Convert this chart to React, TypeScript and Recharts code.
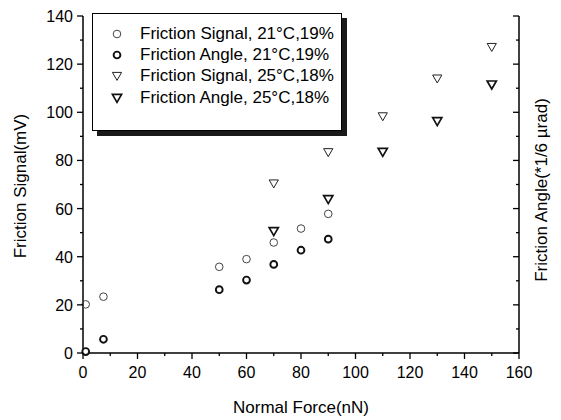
import React from "react";
import {
  ScatterChart,
  Scatter,
  XAxis,
  YAxis,
  Legend,
} from "recharts";

const FONT = "'Liberation Sans', Arial, sans-serif";

// 21°C, 19% run
const force21 = [1, 7.5, 50, 60, 70, 80, 90];
const signal21 = [20.2, 23.4, 35.8, 39.0, 45.9, 51.7, 57.8];
const angle21 = [0.6, 5.7, 26.3, 30.3, 36.8, 42.7, 47.3];

// 25°C, 18% run
const force25 = [70, 90, 110, 130, 150];
const signal25 = [70.4, 83.4, 98.3, 114.0, 127.1];
const angle25 = [50.6, 63.9, 83.5, 96.3, 111.5];

const xTicks = [0, 10, 20, 30, 40, 50, 60, 70, 80, 90, 100, 110, 120, 130, 140, 150, 160];
const yTicks = [0, 10, 20, 30, 40, 50, 60, 70, 80, 90, 100, 110, 120, 130, 140];

const legendLabels = [
  "Friction Signal, 21°C,19%",
  "Friction Angle, 21°C,19%",
  "Friction Signal, 25°C,18%",
  "Friction Angle, 25°C,18%",
];

const toPoints = (xs: number[], ys: number[]) => xs.map((x, i) => ({ x, y: ys[i] }));

const OpenCircle = ({ cx, cy }: any) => (
  <circle cx={cx} cy={cy} r={3.8} fill="none" stroke="#444" strokeWidth={1} />
);
const BoldCircle = ({ cx, cy }: any) => (
  <circle cx={cx} cy={cy} r={3.4} fill="#fff" stroke="#111" strokeWidth={1.9} />
);
const triPath = (cx: number, cy: number) =>
  `M${cx - 4.6} ${cy - 3.6}L${cx + 4.6} ${cy - 3.6}L${cx} ${cy + 4.4}Z`;
const OpenTri = ({ cx, cy }: any) => (
  <path d={triPath(cx, cy)} fill="#fff" stroke="#222" strokeWidth={1} />
);
const BoldTri = ({ cx, cy }: any) => (
  <path d={triPath(cx, cy)} fill="#fff" stroke="#111" strokeWidth={1.7} />
);

const symbols = [OpenCircle, BoldCircle, OpenTri, BoldTri];

const LeftTick = ({ x, y, payload }: any) => {
  const major = payload.value % 20 === 0;
  return (
    <g>
      <line x1={x - (major ? 6 : 3)} y1={y} x2={x} y2={y} stroke="#000" strokeWidth={1.3} />
      {major && (
        <text x={x - 10} y={y + 6} textAnchor="end" fontSize={16} fontFamily={FONT} fill="#000">
          {payload.value}
        </text>
      )}
    </g>
  );
};

const RightTick = ({ x, y, payload }: any) => {
  const major = payload.value % 20 === 0;
  return (
    <line x1={x - (major ? 6 : 3)} y1={y} x2={x} y2={y} stroke="#000" strokeWidth={1.3} />
  );
};

const BottomTick = ({ x, y, payload }: any) => {
  const major = payload.value % 20 === 0;
  return (
    <g>
      <line x1={x} y1={y} x2={x} y2={y + (major ? 6 : 3)} stroke="#000" strokeWidth={1.3} />
      {major && (
        <text x={x} y={y + 25} textAnchor="middle" fontSize={16} fontFamily={FONT} fill="#000">
          {payload.value}
        </text>
      )}
    </g>
  );
};

const LegendBox = () => (
  <div
    style={{
      width: 250,
      height: 118,
      border: "1px solid #000",
      boxShadow: "5px 5px 0 #1a1a1a",
      background: "#fff",
      fontFamily: FONT,
      fontSize: 17,
      color: "#000",
      boxSizing: "border-box",
      paddingTop: 9,
    }}
  >
    {legendLabels.map((label, i) => {
      const Sym = symbols[i];
      return (
        <div key={label} style={{ display: "flex", alignItems: "center", height: 21.3 }}>
          <svg width={47} height={20} style={{ display: "block" }}>
            <Sym cx={24} cy={10} />
          </svg>
          <span style={{ whiteSpace: "nowrap" }}>{label}</span>
        </div>
      );
    })}
  </div>
);

const axisStyle = { stroke: "#000", strokeWidth: 1.5 };

const App = () => {
  return (
    <div style={{ position: "absolute", left: 0, top: 0, background: "#fff" }}>
      <ScatterChart
        width={561}
        height={420}
        margin={{ top: 16, right: 0, bottom: 0, left: 0 }}
      >
        <XAxis
          type="number"
          dataKey="x"
          domain={[0, 160]}
          ticks={xTicks}
          interval={0}
          height={67}
          tickSize={0}
          tickMargin={0}
          tickLine={false}
          stroke="#000"
          axisLine={axisStyle}
          tick={<BottomTick />}
          label={{
            content: () => (
              <text x={301} y={413} textAnchor="middle" fontSize={17} fontFamily={FONT} fill="#000">
                Normal Force(nN)
              </text>
            ),
          }}
        />
        <YAxis
          yAxisId="left"
          type="number"
          dataKey="y"
          domain={[0, 140]}
          ticks={yTicks}
          interval={0}
          width={83}
          tickSize={0}
          tickMargin={0}
          tickLine={false}
          stroke="#000"
          axisLine={axisStyle}
          tick={<LeftTick />}
          label={{
            content: () => (
              <text
                x={26}
                y={186}
                transform="rotate(-90 26 186)"
                textAnchor="middle"
                fontSize={17}
                fontFamily={FONT}
                fill="#000"
              >
                Friction Signal(mV)
              </text>
            ),
          }}
        />
        <YAxis
          yAxisId="right"
          orientation="right"
          type="number"
          dataKey="y"
          domain={[0, 140]}
          ticks={yTicks}
          interval={0}
          width={42}
          tickSize={0}
          tickMargin={0}
          tickLine={false}
          stroke="#000"
          axisLine={axisStyle}
          tick={<RightTick />}
          label={{
            content: () => (
              <text
                x={547}
                y={190}
                transform="rotate(-90 547 190)"
                textAnchor="middle"
                fontSize={17}
                fontFamily={FONT}
                fill="#000"
              >
                Friction Angle(*1/6 µrad)
              </text>
            ),
          }}
        />
        <Legend
          layout="vertical"
          align="center"
          verticalAlign="middle"
          content={<LegendBox />}
          wrapperStyle={{ left: 92, top: 13, width: 260, height: 125 }}
        />
        <Scatter
          name={legendLabels[0]}
          yAxisId="left"
          data={toPoints(force21, signal21)}
          shape={(p: any) => <OpenCircle {...p} />}
          isAnimationActive={false}
        />
        <Scatter
          name={legendLabels[1]}
          yAxisId="right"
          data={toPoints(force21, angle21)}
          shape={(p: any) => <BoldCircle {...p} />}
          isAnimationActive={false}
        />
        <Scatter
          name={legendLabels[2]}
          yAxisId="left"
          data={toPoints(force25, signal25)}
          shape={(p: any) => <OpenTri {...p} />}
          isAnimationActive={false}
        />
        <Scatter
          name={legendLabels[3]}
          yAxisId="right"
          data={toPoints(force25, angle25)}
          shape={(p: any) => <BoldTri {...p} />}
          isAnimationActive={false}
        />
      </ScatterChart>
    </div>
  );
};

export default App;
